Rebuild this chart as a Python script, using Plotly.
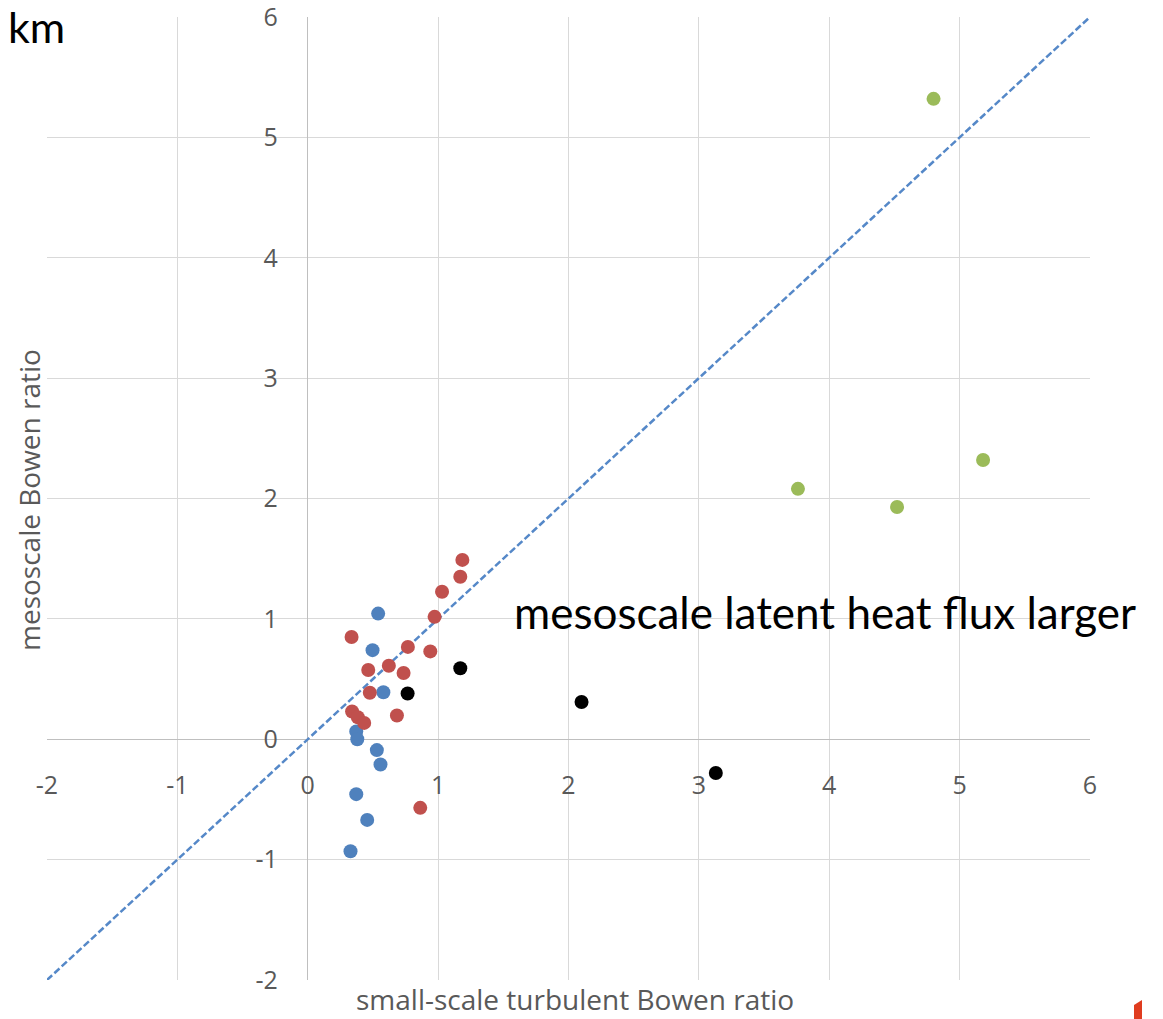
import plotly.graph_objects as go

# ---- data ----
blue_x = [0.54, 0.497, 0.58, 0.372, 0.38, 0.53, 0.558, 0.372, 0.456, 0.328]
blue_y = [1.044, 0.74, 0.39, 0.064, 0.0, -0.09, -0.21, -0.456, -0.67, -0.93]

red_x = [1.186, 1.17, 1.03, 0.973, 0.336, 0.768, 0.94, 0.622, 0.464, 0.735,
         0.476, 0.684, 0.34, 0.384, 0.433, 0.863]
red_y = [1.49, 1.35, 1.225, 1.017, 0.85, 0.767, 0.73, 0.61, 0.575, 0.55,
         0.386, 0.197, 0.23, 0.183, 0.136, -0.57]

black_x = [1.17, 0.766, 2.10, 3.13]
black_y = [0.59, 0.38, 0.31, -0.28]

green_x = [4.80, 3.76, 4.52, 5.18]
green_y = [5.32, 2.08, 1.93, 2.32]

diag_x = [-2, 6]
diag_y = [-2, 6]

tick_vals = [-2, -1, 0, 1, 2, 3, 4, 5, 6]
tick_text = ["-2", "-1", "0", "1", "2", "3", "4", "5", "6"]

W, H = 1163, 1019
ML, MR, MT, MB = 47, 73, 17, 39
PW, PH = W - ML - MR, H - MT - MB


def px2paper(px, py):
    return (px - ML) / PW, (H - MB - py) / PH


fig = go.Figure()
fig.add_trace(go.Scatter(x=diag_x, y=diag_y, mode="lines",
                         line=dict(color="#5588C8", width=2.5, dash="7px,3px"),
                         showlegend=False, hoverinfo="skip"))
mk = dict(size=14, line=dict(width=0))
fig.add_trace(go.Scatter(x=blue_x, y=blue_y, mode="markers",
                         marker=dict(color="#4F81BD", **mk), showlegend=False))
fig.add_trace(go.Scatter(x=red_x, y=red_y, mode="markers",
                         marker=dict(color="#C0504D", **mk), showlegend=False))
fig.add_trace(go.Scatter(x=black_x, y=black_y, mode="markers",
                         marker=dict(color="#000000", **mk), showlegend=False))
fig.add_trace(go.Scatter(x=green_x, y=green_y, mode="markers",
                         marker=dict(color="#9BBB59", **mk), showlegend=False))

tickfont = dict(family="Open Sans", size=25, color="#595959")
fig.update_layout(
    width=W, height=H,
    margin=dict(l=ML, r=MR, t=MT, b=MB, pad=0, autoexpand=False),
    paper_bgcolor="white", plot_bgcolor="white",
    xaxis=dict(range=[-2, 6], tickvals=tick_vals, ticktext=tick_text,
               anchor="free", position=0.25, automargin=False,
               ticklabeloverflow="allow",
               showgrid=True, gridcolor="#D9D9D9", gridwidth=1,
               zeroline=True, zerolinecolor="#BFBFBF", zerolinewidth=1,
               showline=False, ticks="", tickfont=tickfont,
               ticklabelstandoff=29, fixedrange=True),
    yaxis=dict(range=[-2, 6], tickvals=tick_vals, ticktext=tick_text,
               anchor="free", position=0.25, automargin=False,
               ticklabeloverflow="allow",
               showgrid=True, gridcolor="#D9D9D9", gridwidth=1,
               zeroline=True, zerolinecolor="#BFBFBF", zerolinewidth=1,
               showline=False, ticks="", tickfont=tickfont,
               ticklabelstandoff=30, fixedrange=True),
)

annots = []
kx, ky = px2paper(36, 0)
annots.append(dict(text="km", x=kx, y=ky, xref="paper", yref="paper",
                   xanchor="center", yanchor="top", showarrow=False,
                   borderpad=0,
                   font=dict(family="Lato", size=43, color="black")))
annots.append(dict(text="mesoscale latent heat flux larger", x=1.57, y=1.06,
                   xref="x", yref="y", xanchor="left", yanchor="middle",
                   showarrow=False,
                   font=dict(family="Lato", size=44, color="black")))
tx, ty = px2paper(29, 500)
annots.append(dict(text="mesoscale Bowen ratio", x=tx, y=ty, xref="paper",
                   yref="paper", xanchor="center", yanchor="middle",
                   textangle=-90, showarrow=False,
                   font=dict(family="Open Sans", size=28, color="#595959")))
bx, by = px2paper(575, 1019)
annots.append(dict(text="small-scale turbulent Bowen ratio", x=bx, y=by,
                   xref="paper", yref="paper", xanchor="center",
                   yanchor="bottom", showarrow=False, borderpad=0,
                   font=dict(family="Open Sans", size=28, color="#595959")))
fig.update_layout(annotations=annots)

# small red decoration at the bottom-right corner
pts = [px2paper(1134, 1005), px2paper(1142, 1000), px2paper(1142, 1019),
       px2paper(1134, 1019)]
path = "M " + " L ".join(f"{a},{b}" for a, b in pts) + " Z"
fig.add_shape(type="path", path=path, xref="paper", yref="paper",
              fillcolor="#E03C1F", line=dict(width=0), layer="above")

fig.write_html("out.html")
